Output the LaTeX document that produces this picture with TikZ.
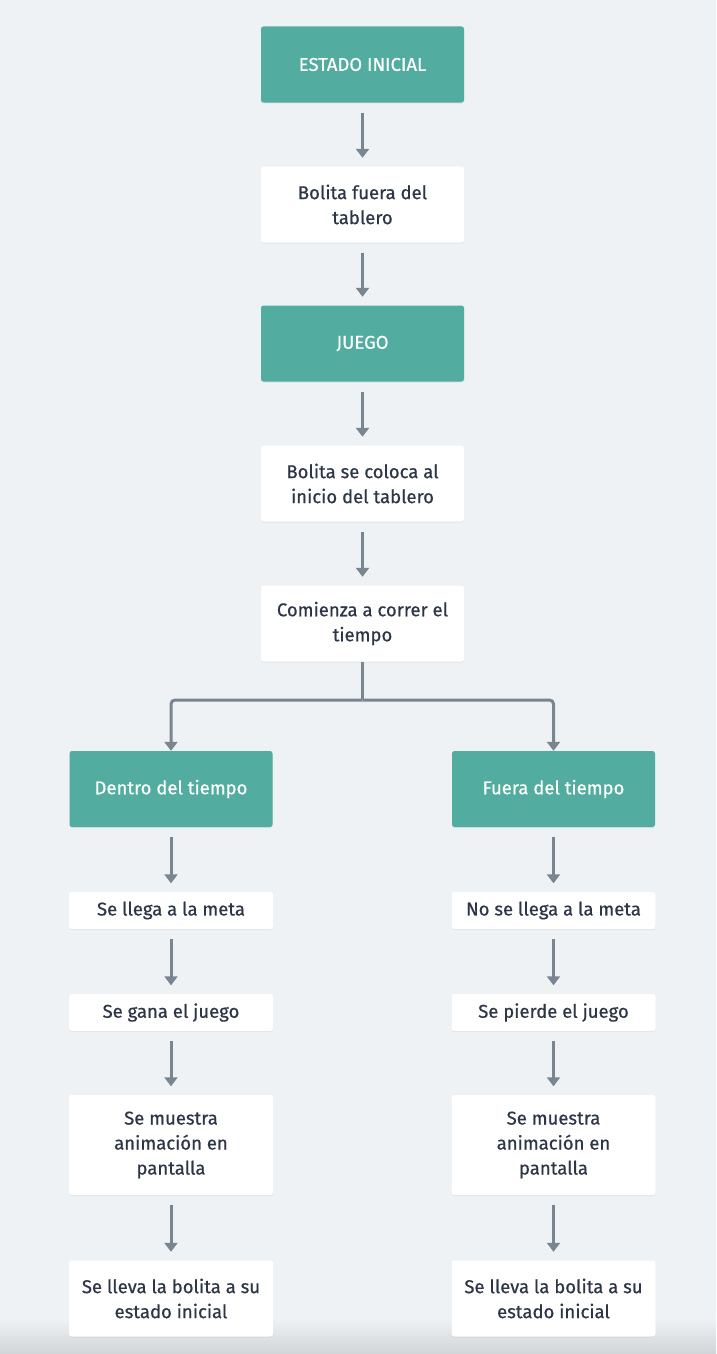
\documentclass[tikz,border=0pt]{standalone}
\usepackage{fontspec}
\setmainfont{Fira Sans}[FakeBold=0.6]
\usetikzlibrary{arrows.meta,shadows}
\definecolor{bgc}{HTML}{EEF2F5}
\definecolor{teal}{HTML}{52AC9F}
\definecolor{arrc}{HTML}{7A8592}
\definecolor{txt}{HTML}{2D3646}
\tikzset{
  base/.style={rounded corners=2.5pt, inner sep=0pt, align=center, font=\fontsize{18.5}{25}\selectfont,
    drop shadow={shadow xshift=0pt, shadow yshift=-1pt, opacity=0.12}},
  greenbox/.style={base, fill=teal, text=white, minimum width=203pt, minimum height=76pt},
  whitebox/.style={base, fill=white, text=txt, minimum width=203pt, minimum height=76pt},
  slimbox/.style={base, fill=white, text=txt, minimum width=204pt, minimum height=37pt},
  tallbox/.style={base, fill=white, text=txt, minimum width=204pt, minimum height=100pt},
  line/.style={draw=arrc, line width=3pt},
  arr/.style={line, -{Triangle[length=9pt,width=13pt]}},
  stepgap/.style={arr, shorten <=10pt, shorten >=8.5pt},
}
\begin{document}
\begin{tikzpicture}[x=1pt,y=-1pt]
\fill[bgc] (0,0) rectangle (716,1354);
\shade[top color=bgc, bottom color=bgc!88!black] (0,1318) rectangle (716,1354);
\useasboundingbox (0,0) rectangle (716,1354);

\node[greenbox] (e1) at (362.5,64.5) {ESTADO INICIAL};
\node[whitebox] (e2) at (362.5,204.5) {Bolita fuera del\\tablero};
\node[greenbox] (e3) at (362.5,343.5) {JUEGO};
\node[whitebox] (e4) at (362.5,483.5) {Bolita se coloca al\\inicio del tablero};
\node[whitebox] (e5) at (362.5,623.5) {Comienza a correr el\\tiempo};

\node[greenbox] (l1) at (171,789) {Dentro del tiempo};
\node[slimbox] (l2) at (171,910.5) {Se llega a la meta};
\node[slimbox] (l3) at (171,1012.5) {Se gana el juego};
\node[tallbox] (l4) at (171,1145) {Se muestra\\animación en\\pantalla};
\node[whitebox, minimum width=204pt] (l5) at (171,1298.5) {Se lleva la bolita a su\\estado inicial};

\node[greenbox] (r1) at (553.5,789) {Fuera del tiempo};
\node[slimbox] (r2) at (553.5,910.5) {No se llega a la meta};
\node[slimbox] (r3) at (553.5,1012.5) {Se pierde el juego};
\node[tallbox] (r4) at (553.5,1145) {Se muestra\\animación en\\pantalla};
\node[whitebox, minimum width=204pt] (r5) at (553.5,1298.5) {Se lleva la bolita a su\\estado inicial};

\draw[stepgap] (e1) -- (e2);
\draw[stepgap] (e2) -- (e3);
\draw[stepgap] (e3) -- (e4);
\draw[stepgap] (e4) -- (e5);

\coordinate (split) at (362.5,700);
\draw[line] (e5.south) -- ([yshift=1.5pt]split);
\draw[arr, rounded corners=4pt] (split) -| (l1.north);
\draw[arr, rounded corners=4pt] (split) -| (r1.north);

\draw[stepgap] (l1) -- (l2);
\draw[stepgap] (l2) -- (l3);
\draw[stepgap] (l3) -- (l4);
\draw[stepgap] (l4) -- (l5);
\draw[stepgap] (r1) -- (r2);
\draw[stepgap] (r2) -- (r3);
\draw[stepgap] (r3) -- (r4);
\draw[stepgap] (r4) -- (r5);
\end{tikzpicture}
\end{document}
